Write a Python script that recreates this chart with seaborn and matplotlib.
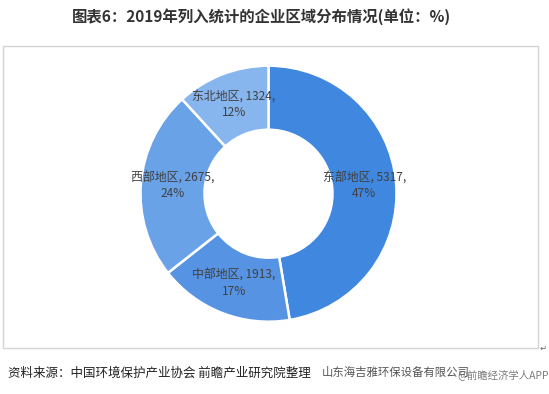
import matplotlib
matplotlib.use("Agg")
import matplotlib.pyplot as plt
import seaborn as sns
from matplotlib.patches import Rectangle

sns.set_theme(style="white")
plt.rcParams['font.family'] = ['Noto Sans CJK SC', 'DejaVu Sans']

# data
regions = ["东部地区", "中部地区", "西部地区", "东北地区"]
counts = [5317, 1913, 2675, 1324]
percents = ["47%", "17%", "24%", "12%"]
colors = ["#3f87df", "#5693e2", "#6aa2e8", "#87b5ee"]

title = "图表6：2019年列入统计的企业区域分布情况(单位：%)"
source = "资料来源：中国环境保护产业协会 前瞻产业研究院整理"

W, H = 549, 394
fig = plt.figure(figsize=(W / 100, H / 100), dpi=100)
fig.patch.set_facecolor("white")

# bordered chart area
fig.patches.append(Rectangle((3 / W, 1 - 347.5 / H), 535 / W, 301.5 / H,
                             transform=fig.transFigure, fill=False,
                             edgecolor="#d4d4d4", linewidth=1.0))

cx, cy, r = 268.5, 193.7, 128
ax = fig.add_axes([(cx - r) / W, (H - cy - r) / H, 2 * r / W, 2 * r / H])

labels_iter = iter([f"{n}, {c},\n{p}" for n, c, p in zip(regions, counts, percents)])

wedges, texts, autotexts = ax.pie(
    counts, colors=colors, startangle=90, counterclock=False,
    radius=1.0, wedgeprops=dict(width=0.5, edgecolor="white", linewidth=1.8),
    autopct=lambda pct: next(labels_iter), pctdistance=0.75,
    textprops=dict(fontsize=8.6, color="#404040", linespacing=1.3))
ax.set_xlim(-1, 1)
ax.set_ylim(-1, 1)
ax.set_aspect("equal")
ax.axis("off")

fig.text(261 / W, 1 - 17 / H, title, ha="center", va="center",
         fontsize=11.1, fontweight="bold", color="#333333")
fig.text(8 / W, 1 - 373 / H, source, ha="left", va="center",
         fontsize=9.0, color="#222222")
fig.text(322 / W, 1 - 372 / H, "山东海吉雅环保设备有限公司", ha="left", va="center",
         fontsize=8.2, color="#555555")
fig.text(549 / W, 1 - 375 / H, "@前瞻经济学人APP", ha="right", va="center",
         fontsize=7.5, color="#666666", alpha=0.85)
fig.text(543 / W, 1 - 348 / H, "↵", ha="center", va="center",
         fontsize=6, color="#666666")

fig.savefig("out.png", dpi=100, facecolor="white")
